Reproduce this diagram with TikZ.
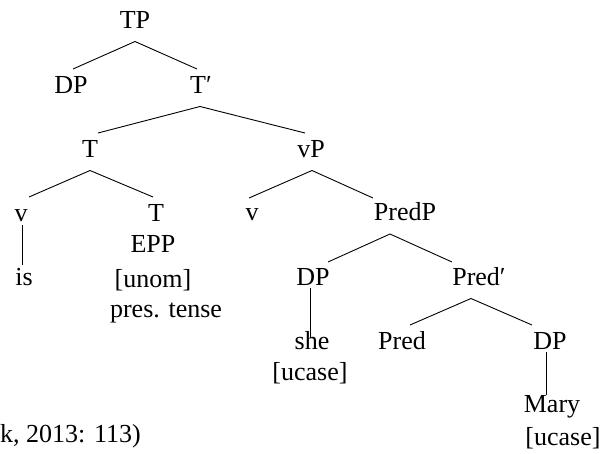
\documentclass[tikz,border=0pt]{standalone}
\usepackage{fontspec}
\setmainfont{Liberation Serif}
\usetikzlibrary{calc}
\tikzset{
  lbl/.style={font=\fontsize{26}{31}\selectfont, inner sep=0pt, anchor=base},
  br/.style={line width=0.9pt}
}
\begin{document}
\begin{tikzpicture}[x=1pt,y=-1pt]
\useasboundingbox (0,0) rectangle (600,453);
% nodes
\node[lbl] (TP) at (135,28) {TP};
\node[lbl] (DPa) at (71,93) {DP};
\node[lbl] (Tbar) at (201,93) {T′};
\node[lbl] (Ta) at (90,157) {T};
\node[lbl] (vP) at (311,157) {vP};
\node[lbl] (va) at (21,221) {v};
\node[lbl] (Tb) at (156,221) {T};
\node[lbl] (vb) at (252,220) {v};
\node[lbl] (PredP) at (405,220) {PredP};
\node[lbl] (DPb) at (313,285) {DP};
\node[lbl] (Predbar) at (479,285) {Pred′};
\node[lbl] (Pred) at (402,349) {Pred};
\node[lbl] (DPc) at (550,349) {DP};
\node[lbl] (is) at (24,285) {is};
\node[lbl] (EPP) at (153,252) {EPP};
\node[lbl] (unom) at (153,287) {[unom]};
\node[lbl] (pres) at (166,317) {pres. tense};
\node[lbl] (she) at (312,349) {she};
\node[lbl] (ucasea) at (310,380) {[ucase]};
\node[lbl] (Mary) at (552,412) {Mary};
\node[lbl] (ucaseb) at (563,445) {[ucase]};
\node[lbl, anchor=base west] (cap) at (0,442) {k, 2013: 113)};
% branches
\draw[br] ($(DPa.base)+(2,-24)$) -- ($(TP.base)+(0,13.5)$) -- ($(Tbar.base)+(-4,-24)$);
\draw[br] ($(Ta.base)+(8,-24)$) -- ($(Tbar.base)+(-1,13.5)$) -- ($(vP.base)+(-6,-24)$);
\draw[br] ($(va.base)+(8,-24)$) -- ($(Ta.base)+(0,13.5)$) -- ($(Tb.base)+(-3,-24)$);
\draw[br] ($(vb.base)+(-3,-22)$) -- ($(vP.base)+(1,13.5)$) -- ($(PredP.base)+(-32,-22)$);
\draw[br] ($(DPb.base)+(15,-23)$) -- ($(PredP.base)+(-15,14)$) -- ($(Predbar.base)+(-27,-23)$);
\draw[br] ($(Pred.base)+(8,-24)$) -- ($(Predbar.base)+(-8,13.5)$) -- ($(DPc.base)+(-18,-24)$);
\draw[br] ($(va.base)+(1,4)$) -- ($(is.base)+(-2,-20)$);
\draw[br] ($(DPb.base)+(-3,3)$) -- ($(she.base)+(-2,-11)$);
\draw[br] ($(DPc.base)+(-4,3)$) -- ($(Mary.base)+(-6,-17)$);
\end{tikzpicture}
\end{document}
